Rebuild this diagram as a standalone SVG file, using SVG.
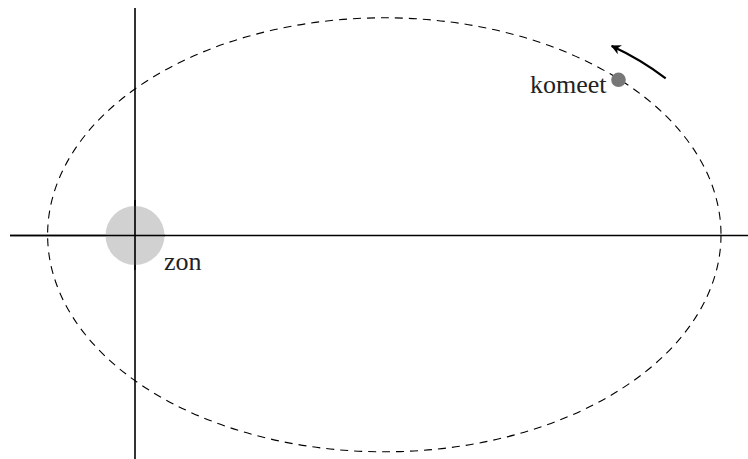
<svg xmlns="http://www.w3.org/2000/svg" width="748" height="459" viewBox="0 0 748 459">
  <style>
    .axis { stroke: #000; stroke-width: 1.6; fill: none; }
    .orbit { stroke: #000; stroke-width: 1.1; fill: none; stroke-dasharray: 8 6; }
    text { font-family: "Liberation Serif", "Times New Roman", Times, serif; font-size: 26px; fill: #222; }
  </style>
  <defs>
    <marker id="arrowhead" viewBox="0 0 10 10" refX="9" refY="5" markerWidth="10" markerHeight="10" markerUnits="userSpaceOnUse" orient="auto">
      <path d="M0,0 L10,5 L0,10 L3,5 Z" fill="#000"/>
    </marker>
  </defs>
  <rect width="748" height="459" fill="#fff"/>
  <g id="axes">
    <line class="axis" x1="10" y1="235.5" x2="748" y2="235.5"/>
    <line class="axis" x1="135" y1="8" x2="135" y2="459"/>
  </g>
  <g id="orbit">
    <ellipse class="orbit" cx="384.3" cy="234.8" rx="336.7" ry="217"/>
  </g>
  <g id="zon">
    <circle cx="135" cy="235.5" r="29.5" fill="#cccccc" fill-opacity="0.9"/>
    <line class="axis" x1="10" y1="235.5" x2="165" y2="235.5"/>
    <line class="axis" x1="135" y1="200" x2="135" y2="270"/>
    <text font-family="Liberation Serif, serif" x="164" y="270">zon</text>
  </g>
  <g id="komeet">
    <circle cx="618.5" cy="79.8" r="7.3" fill="#777777"/>
    <text font-family="Liberation Serif, serif" x="530" y="93">komeet</text>
  </g>
  <g id="connectors">
    <path d="M665.7,78.3 Q640,59 611.7,46" fill="none" stroke="#000" stroke-width="2.2" marker-end="url(#arrowhead)"/>
  </g>
</svg>
